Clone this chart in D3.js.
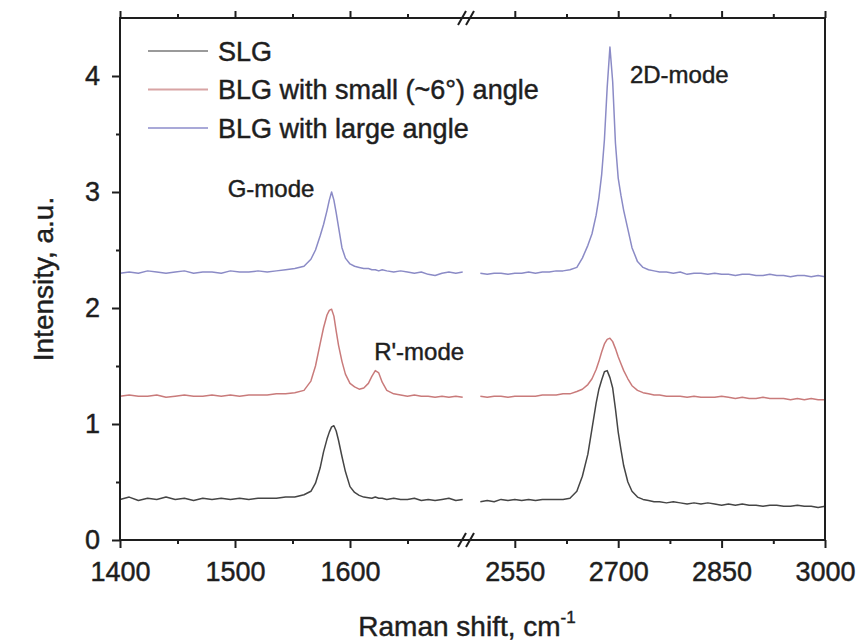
<!DOCTYPE html>
<html>
<head>
<meta charset="utf-8">
<script src="https://cdn.jsdelivr.net/npm/d3@7"></script>
<style>
  body { margin: 0; background: #fff; }
  svg { display: block; font-family: "Liberation Sans", Arial, sans-serif; }
  svg text { stroke: #1e1e1e; stroke-width: 0.45px; }
</style>
</head>
<body>
<div id="chart"></div>
<script>
const width = 866, height = 644;

// Raman shift grid (cm^-1) below the axis break
const shiftLow = [1400,1408,1416,1424,1432,1440,1448,1456,1464,1472,1480,1488,1496,1504,1512,1520,1528,1536,1544,1552,
  1560,1566,1570,1574,1577,1580,1582,1584,1586,1588,1590,1593,1596,1600,1604,1608,1612,1616,1619,1622,1625,1628,1632,
  1638,1644,1650,1656,1662,1668,1674,1680,1686,1692,1698];
// Raman shift grid (cm^-1) above the axis break
const shiftHigh = [2500,2510,2520,2530,2540,2550,2560,2570,2580,2590,2600,2610,2620,2630,2640,
  2648,2656,2662,2668,2672,2676,2680,2684,2688,2692,2696,2700,2704,2708,2714,2720,2728,2736,2744,2752,
  2760,2770,2780,2790,2800,2810,2820,2830,2840,2850,2860,2870,2880,2890,2900,2910,2920,2930,2940,2950,2960,2970,2980,2990,3000];

// intensities, a.u. (offset traces as plotted)
const slgLow = [0.35,0.37,0.34,0.36,0.35,0.37,0.35,0.36,0.34,0.36,0.35,0.36,0.35,0.36,0.35,0.36,0.36,0.36,0.37,0.37,
  0.39,0.42,0.49,0.62,0.76,0.87,0.93,0.975,0.985,0.94,0.86,0.72,0.59,0.46,0.41,0.385,0.37,0.365,0.36,0.37,0.36,0.36,0.35,
  0.36,0.35,0.35,0.36,0.34,0.35,0.34,0.35,0.36,0.34,0.35];
const slgHigh = [0.33,0.34,0.33,0.35,0.34,0.35,0.34,0.35,0.34,0.35,0.35,0.35,0.35,0.36,0.42,
  0.55,0.74,0.96,1.18,1.30,1.38,1.45,1.46,1.40,1.31,1.13,0.93,0.78,0.64,0.50,0.42,0.37,0.35,0.34,0.33,
  0.33,0.32,0.33,0.32,0.31,0.32,0.31,0.32,0.31,0.30,0.31,0.30,0.31,0.30,0.30,0.29,0.30,0.30,0.29,0.29,0.30,0.29,0.29,0.28,0.29];

const blgSmallLow = [1.24,1.25,1.24,1.24,1.25,1.23,1.24,1.25,1.24,1.24,1.25,1.24,1.25,1.24,1.25,1.25,1.25,1.26,1.26,1.27,
  1.29,1.37,1.50,1.69,1.83,1.94,1.98,1.99,1.93,1.80,1.68,1.54,1.43,1.35,1.32,1.30,1.31,1.35,1.41,1.46,1.44,1.36,1.29,
  1.26,1.25,1.24,1.25,1.24,1.24,1.23,1.24,1.23,1.24,1.23];
const blgSmallHigh = [1.24,1.23,1.24,1.24,1.23,1.24,1.24,1.24,1.24,1.25,1.25,1.25,1.26,1.26,1.28,
  1.30,1.34,1.39,1.47,1.54,1.62,1.69,1.73,1.74,1.71,1.65,1.58,1.52,1.46,1.39,1.33,1.29,1.27,1.26,1.25,
  1.25,1.24,1.24,1.24,1.23,1.24,1.23,1.23,1.23,1.24,1.23,1.22,1.23,1.22,1.22,1.23,1.22,1.22,1.22,1.21,1.22,1.21,1.22,1.21,1.21];

const blgLargeLow = [2.30,2.31,2.30,2.32,2.31,2.30,2.31,2.32,2.30,2.31,2.31,2.30,2.32,2.31,2.31,2.32,2.31,2.32,2.33,2.34,
  2.36,2.42,2.50,2.62,2.72,2.84,2.93,3.00,2.93,2.82,2.70,2.52,2.43,2.38,2.36,2.35,2.34,2.34,2.33,2.33,2.32,2.33,2.32,
  2.31,2.32,2.31,2.30,2.31,2.29,2.28,2.30,2.31,2.30,2.31];
const blgLargeHigh = [2.30,2.29,2.30,2.30,2.29,2.30,2.30,2.31,2.30,2.31,2.31,2.32,2.32,2.33,2.35,
  2.43,2.54,2.64,2.80,2.95,3.15,3.45,3.90,4.25,3.95,3.42,3.12,2.97,2.84,2.68,2.52,2.40,2.35,2.33,2.32,
  2.31,2.31,2.30,2.31,2.29,2.30,2.30,2.29,2.30,2.29,2.29,2.28,2.29,2.29,2.28,2.28,2.29,2.28,2.28,2.27,2.28,2.28,2.27,2.28,2.27];

const seriesNames = ["SLG", "BLG with small (~6°) angle", "BLG with large angle"];

const xMajorLow = [1400, 1500, 1600];
const xMinorLow = [1450, 1550, 1650];
const xMajorHigh = [2550, 2700, 2850, 3000];
const xMinorHigh = [2625, 2775, 2925];
const yMajor = [0, 1, 2, 3, 4];
const yMinor = [0.5, 1.5, 2.5, 3.5];

const peakLabels = ["G-mode", "R'-mode", "2D-mode"];

const colors = ["#454545", "#c97b7b", "#8b8bc6"];
const legendColors = ["#9a9a9a", "#d8a4a4", "#a9a9d8"];
const ink = "#1e1e1e";

const margin = {top: 18, right: 41, bottom: 104, left: 120};
const plotBottom = height - margin.bottom;
const plotRight = width - margin.right;

const xLow = d3.scaleLinear().domain([1400, 1700]).range([margin.left, 465]);
const xHigh = d3.scaleLinear().domain([2485, 3000]).range([470, plotRight]);
const y = d3.scaleLinear().domain([0, 4.5]).range([plotBottom, margin.top]);

const svg = d3.select("#chart").append("svg")
    .attr("width", width)
    .attr("height", height);

const series = [
  {low: d3.zip(shiftLow, slgLow), high: d3.zip(shiftHigh, slgHigh)},
  {low: d3.zip(shiftLow, blgSmallLow), high: d3.zip(shiftHigh, blgSmallHigh)},
  {low: d3.zip(shiftLow, blgLargeLow), high: d3.zip(shiftHigh, blgLargeHigh)}
];

const lineLow = d3.line().x(d => xLow(d[0])).y(d => y(d[1]));
const lineHigh = d3.line().x(d => xHigh(d[0])).y(d => y(d[1]));

const traces = svg.append("g").attr("fill", "none").attr("stroke-width", 1.5).attr("stroke-linejoin", "round");
series.forEach((s, i) => {
  traces.append("path").attr("d", lineLow(s.low)).attr("stroke", colors[i]);
  traces.append("path").attr("d", lineHigh(s.high)).attr("stroke", colors[i]);
});

// axes: ticks from d3, frame drawn separately
function styleAxis(g) {
  g.select(".domain").remove();
  g.attr("font-family", null).attr("font-size", 27);
  g.selectAll("line").attr("stroke", ink).attr("stroke-width", 2);
  g.selectAll("text").attr("fill", ink);
}

const fmt = d3.format("d");
[[xLow, xMajorLow, xMinorLow], [xHigh, xMajorHigh, xMinorHigh]].forEach(([sc, major, minor]) => {
  svg.append("g").attr("transform", `translate(0,${plotBottom})`)
      .call(d3.axisBottom(sc).tickValues(major).tickSize(8).tickPadding(14).tickFormat(fmt)).call(styleAxis);
  svg.append("g").attr("transform", `translate(0,${plotBottom})`)
      .call(d3.axisBottom(sc).tickValues(minor).tickSize(4).tickFormat("")).call(styleAxis);
  svg.append("g").attr("transform", `translate(0,${margin.top})`)
      .call(d3.axisTop(sc).tickValues(major).tickSize(7).tickFormat("")).call(styleAxis);
  svg.append("g").attr("transform", `translate(0,${margin.top})`)
      .call(d3.axisTop(sc).tickValues(minor).tickSize(4).tickFormat("")).call(styleAxis);
});

svg.append("g").attr("transform", `translate(${margin.left},0)`)
    .call(d3.axisLeft(y).tickValues(yMajor).tickSize(8).tickPadding(12).tickFormat(fmt)).call(styleAxis);
svg.append("g").attr("transform", `translate(${margin.left},0)`)
    .call(d3.axisLeft(y).tickValues(yMinor).tickSize(4).tickFormat("")).call(styleAxis);

// frame
const frame = svg.append("g").attr("stroke", ink).attr("stroke-width", 2).attr("fill", "none");
frame.append("path").attr("d", `M${margin.left},${margin.top}V${plotBottom}H${plotRight}V${margin.top}Z`);

// axis break marks
[plotBottom, margin.top].forEach(yy => {
  [462, 470].forEach(xx => {
    frame.append("line")
        .attr("x1", xx - 4).attr("y1", yy + 7)
        .attr("x2", xx + 4).attr("y2", yy - 7);
  });
});

// axis titles
const xTitle = svg.append("text")
    .attr("x", 467).attr("y", 636)
    .attr("text-anchor", "middle")
    .attr("font-size", 28).attr("fill", ink)
    .text("Raman shift, cm");
xTitle.append("tspan").attr("font-size", 17).attr("dy", -13).text("-1");

svg.append("text")
    .attr("transform", "translate(53,279) rotate(-90)")
    .attr("text-anchor", "middle")
    .attr("font-size", 28).attr("fill", ink)
    .text("Intensity, a.u.");

// legend
const legend = svg.append("g");
seriesNames.forEach((name, i) => {
  const ly = 51 + i * 38.5;
  legend.append("line")
      .attr("x1", 148).attr("x2", 208).attr("y1", ly).attr("y2", ly)
      .attr("stroke", legendColors[i]).attr("stroke-width", 2);
  legend.append("text")
      .attr("x", 218).attr("y", ly).attr("dy", "0.36em")
      .attr("font-size", 27).attr("fill", ink)
      .text(name);
});

// peak annotations
const notes = svg.append("g").attr("font-size", 24).attr("fill", ink);
notes.append("text").attr("x", xLow(1569)).attr("y", 197).attr("text-anchor", "end").text(peakLabels[0]);
notes.append("text").attr("x", xLow(1621)).attr("y", 360).text(peakLabels[1]);
notes.append("text").attr("x", xHigh(2717)).attr("y", 83).text(peakLabels[2]);
</script>
</body>
</html>
